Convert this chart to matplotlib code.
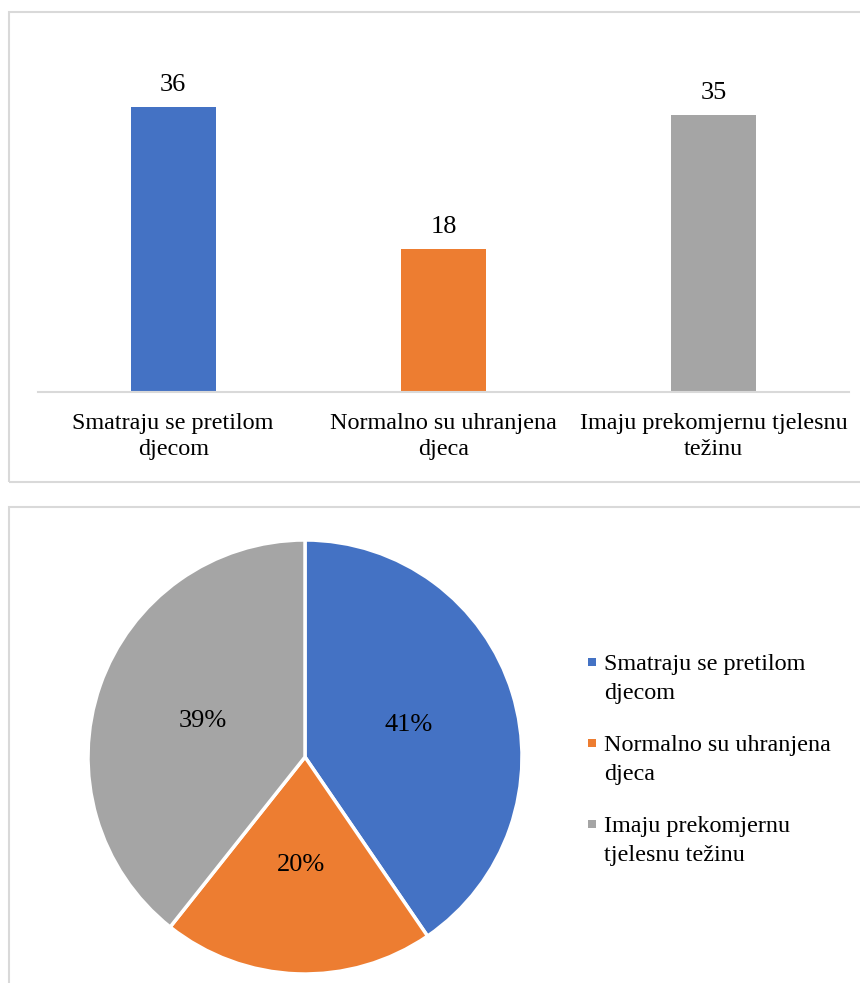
"""Bar and pie chart of children's weight status."""

import matplotlib

matplotlib.use("Agg")

from matplotlib import pyplot as plt  # noqa: E402
from matplotlib.patches import Rectangle  # noqa: E402

CATEGORIES = [
    "Smatraju se pretilom\ndjecom",
    "Normalno su uhranjena\ndjeca",
    "Imaju prekomjernu tjelesnu\ntežinu",
]
LEGEND_LABELS = [
    "Smatraju se pretilom\ndjecom",
    "Normalno su uhranjena\ndjeca",
    "Imaju prekomjernu\ntjelesnu težinu",
]
COUNTS = [36, 18, 35]
PIE_LABELS = ["41%", "20%", "39%"]
COLORS = ["#4472C4", "#ED7D31", "#A5A5A5"]

FIG_W, FIG_H = 860, 983
BORDER = "#d9d9d9"

plt.rcParams["font.family"] = ["Liberation Serif", "DejaVu Serif"]


def fx(px):
    return px / FIG_W


def fy(py):
    return 1 - py / FIG_H


fig = plt.figure(figsize=(FIG_W / 100, FIG_H / 100), dpi=100)

# panel frames
for x0, y0, x1, y1 in [(9, 12, 870, 482), (9, 507, 870, 995)]:
    fig.add_artist(
        Rectangle(
            (fx(x0), fy(y1)), fx(x1 - x0), (y1 - y0) / FIG_H,
            transform=fig.transFigure, fill=False, edgecolor=BORDER,
            linewidth=1.5, clip_on=False,
        )
    )

# bar chart
ax = fig.add_axes([fx(38), fy(392), fx(849 - 38), (392 - 75) / FIG_H])
positions = range(len(COUNTS))
bars = ax.bar(positions, COUNTS, width=0.315, color=COLORS)
ax.set_xlim(-0.5, len(COUNTS) - 0.5)
ax.set_ylim(0, 40)
for rect, value in zip(bars, COUNTS):
    ax.annotate(
        str(value), (rect.get_x() + rect.get_width() / 2, value),
        xytext=(0, 8), textcoords="offset points",
        ha="center", va="bottom", fontsize=19,
    )
ax.set_xticks(list(positions))
ax.set_xticklabels(CATEGORIES, fontsize=17.4, linespacing=1.3)
ax.tick_params(axis="x", length=0, pad=15)
ax.set_yticks([])
for side in ["top", "right", "left"]:
    ax.spines[side].set_visible(False)
ax.spines["bottom"].set_color(BORDER)
ax.spines["bottom"].set_linewidth(1.5)

# pie chart
pax = fig.add_axes([fx(88), fy(974), fx(434), 434 / FIG_H])
label_iter = iter(PIE_LABELS)
wedges, _texts, autotexts = pax.pie(
    COUNTS, colors=COLORS, startangle=90, counterclock=False,
    autopct=lambda _pct: next(label_iter), pctdistance=0.5,
    wedgeprops={"edgecolor": "white", "linewidth": 2.5},
    textprops={"fontsize": 19},
)
pax.set_xlim(-1.0, 1.0)
pax.set_ylim(-1.0, 1.0)

# legend drawn by hand so the marker sits on the first text line
for i, (label, color) in enumerate(zip(LEGEND_LABELS, COLORS)):
    y_line = 662 + i * 81
    fig.add_artist(
        Rectangle(
            (fx(588), fy(y_line + 4)), fx(8), 8 / FIG_H,
            transform=fig.transFigure, facecolor=color, edgecolor="none",
        )
    )
    fig.text(
        fx(604), fy(y_line - 8), label, ha="left", va="top",
        fontsize=17.4, linespacing=1.5,
    )

fig.savefig("out.png", dpi=100)
